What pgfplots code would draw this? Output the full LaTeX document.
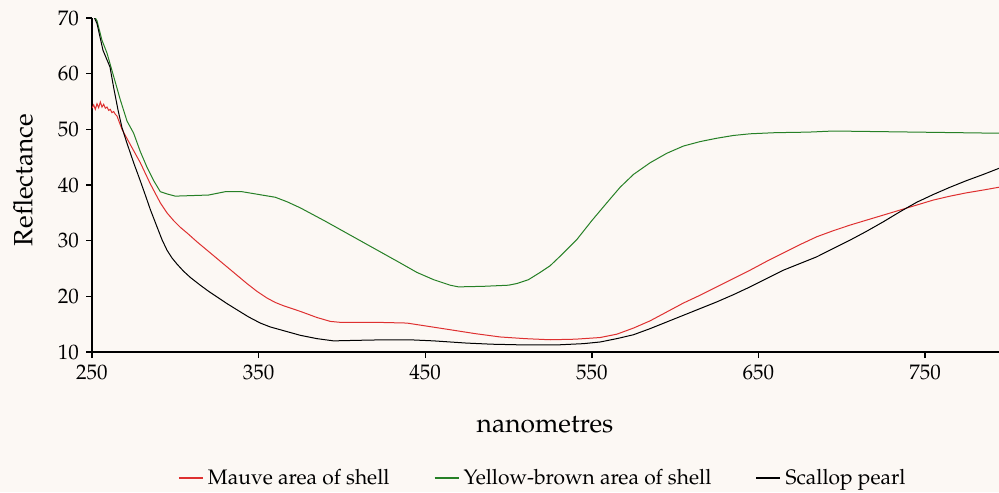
\documentclass[border=0pt]{standalone}
\usepackage[T1]{fontenc}
\usepackage{mathpazo}
\usepackage{pgfplots}
\pgfplotsset{compat=1.18}
\definecolor{bgcol}{RGB}{252,248,244}
\definecolor{redc}{RGB}{222,48,48}
\definecolor{greenc}{RGB}{38,128,38}
\begin{document}
\begin{tikzpicture}[x=1pt,y=1pt]
\fill[bgcol] (-46,-70) rectangle (453.5,176);
\path[use as bounding box] (-46,-70) rectangle (453.5,176);
\begin{axis}[
  at={(0,0)}, anchor=south west, scale only axis,
  width=453.5pt, height=167pt,
  xmin=250, xmax=794.4, ymin=10, ymax=70,
  axis lines=left,
  axis line style={-, line width=1.1pt, black},
  clip=true,
  xtick={250,350,450,550,650,750},
  ytick={10,20,30,40,50,60,70},
  tick align=outside,
  major tick length=3pt,
  tick style={line width=0.7pt, black},
  ticklabel style={font=\fontsize{10.5}{12}\selectfont},
  xlabel={nanometres}, ylabel={Reflectance},
  every axis x label/.style={at={(axis description cs:0.4995,-0.2186)}, anchor=center, font=\fontsize{13.2}{15}\selectfont},
  every axis y label/.style={at={(axis description cs:-0.076,0.515)}, rotate=90, anchor=center, font=\fontsize{13.2}{15}\selectfont},
  legend columns=3,
  legend image code/.code={\draw[#1,line width=1.1pt] (0pt,0pt) -- (12pt,0pt);},
  legend style={draw=none, fill=none, at={(axis description cs:0.498,-0.377)}, anchor=center,
    font=\fontsize{10.5}{12}\selectfont, cells={anchor=west},
    /tikz/every even column/.append style={column sep=20pt},
    inner sep=0pt},
]
\addplot[redc, line width=0.5pt] coordinates {
(250,53.8)(251,54.4)(252,53.6)(253,54.6)(254,53.9)(255,54.9)(256,54.0)(257,54.5)(258,53.8)(259,54.0)(260,53.4)(261,53.6)(262,53.0)(263,53.2)(264,52.7)(265,52.4)(266,51.6)(268,50.0)(272,47.8)(279,44.0)(285,40.2)(291,36.8)(295,35.0)(299,33.6)(303,32.4)(307,31.4)(313,29.8)(319,28.3)(325,26.8)(331,25.3)(337,23.8)(343,22.3)(349,20.9)(355,19.7)(360,18.9)(365,18.3)(375,17.3)(385,16.2)(393,15.5)(400,15.3)(410,15.3)(425,15.3)(439,15.2)(452,14.6)(465,14.0)(480,13.3)(495,12.7)(510,12.4)(525,12.2)(540,12.3)(555,12.6)(565,13.2)(575,14.3)(585,15.6)(595,17.2)(605,18.8)(615,20.2)(625,21.7)(635,23.2)(645,24.7)(655,26.3)(665,27.8)(675,29.3)(685,30.7)(695,31.8)(705,32.8)(715,33.7)(725,34.6)(735,35.5)(745,36.4)(755,37.3)(765,38.0)(775,38.6)(785,39.1)(794.4,39.6)
};
\addlegendentry{Mauve area of shell}
\addplot[greenc, line width=0.5pt] coordinates {
(250,71)(253,69.5)(256,66)(259,63.7)(263,59.5)(267,55.3)(271,51.5)(275,49.3)(279,46)(283,43.2)(287,40.8)(291,38.8)(295,38.4)(300,38.0)(310,38.1)(320,38.2)(330,38.8)(340,38.8)(350,38.3)(360,37.8)(367,37.0)(375,35.9)(390,33.5)(405,31.0)(420,28.5)(435,26.0)(445,24.3)(455,23.0)(465,22.0)(470,21.7)(485,21.8)(500,22.0)(505,22.3)(512,23.0)(519,24.3)(525,25.5)(532,27.5)(541,30.2)(550,33.6)(559,36.8)(567,39.6)(575,41.9)(585,44.0)(595,45.7)(605,47.0)(615,47.8)(625,48.4)(635,48.9)(645,49.2)(660,49.4)(680,49.5)(695,49.7)(720,49.6)(745,49.5)(770,49.4)(794.4,49.3)
};
\addlegendentry{Yellow-brown area of shell}
\addplot[black, line width=0.5pt] coordinates {
(250,71)(253,69)(256.6,64.2)(260.8,61.2)(263,57.5)(265.6,53.5)(268,50.3)(271,47.5)(275,44)(278.8,40.9)(282,38.2)(285,35.6)(289,32.5)(292,30.2)(295,28.3)(298,26.9)(301,25.8)(305,24.5)(309,23.4)(315,22.0)(320,20.9)(325,19.9)(331,18.7)(338,17.4)(344,16.3)(351,15.2)(357,14.5)(363,14.0)(369,13.5)(375,13.0)(385,12.4)(395,12.0)(410,12.1)(427,12.2)(440,12.2)(455,12.0)(475,11.6)(490,11.4)(505,11.3)(520,11.3)(531,11.3)(545,11.5)(555,11.8)(565,12.4)(575,13.1)(585,14.2)(595,15.4)(605,16.6)(615,17.8)(625,19.0)(635,20.3)(645,21.7)(655,23.2)(665,24.7)(675,25.9)(685,27.1)(695,28.6)(705,30.1)(715,31.7)(725,33.4)(735,35.2)(745,36.9)(755,38.3)(765,39.6)(775,40.8)(785,41.9)(794.4,43.0)
};
\addlegendentry{Scallop pearl}
\end{axis}
\end{tikzpicture}
\end{document}
